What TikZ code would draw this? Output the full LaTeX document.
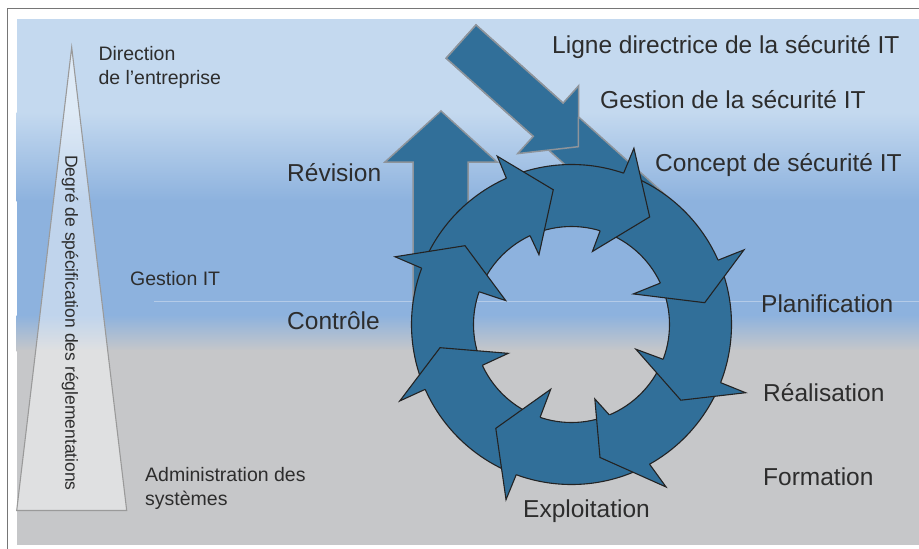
\documentclass[tikz,border=0pt]{standalone}
\usepackage{fontspec}
\setmainfont{Liberation Sans}
\definecolor{skytop}{HTML}{C4D9EF}
\definecolor{skymid}{HTML}{8DB2DE}
\definecolor{floorgray}{HTML}{C6C7C9}
\definecolor{cycleblue}{HTML}{316F99}
\definecolor{cycleedge}{HTML}{232323}
\definecolor{flowedge}{HTML}{8E949B}
\definecolor{labeltext}{HTML}{2D2D2D}
\definecolor{divider}{HTML}{B4CBE8}
\definecolor{frameline}{HTML}{767676}
\definecolor{pyramidrim}{HTML}{9A9A9A}

\begin{document}
\begin{tikzpicture}[x=1pt,y=-1pt,
  biglab/.style={font=\fontsize{24.5}{29}\selectfont,text=labeltext,inner sep=0pt,anchor=base west},
  smalllab/.style={font=\fontsize{19.5}{24.5}\selectfont,text=labeltext,inner sep=0pt,anchor=base west,align=left},
  flow/.style={fill=cycleblue,draw=flowedge,line width=1.5pt,line join=miter},
  ringline/.style={draw=cycleedge,line width=1.1pt,line join=miter}]
\useasboundingbox (0,0) rectangle (919,549);
% background bands
\fill[skytop] (16.7,19.3) rectangle (919,113);
\shade[top color=skytop,bottom color=skymid] (16.7,112) rectangle (919,201);
\fill[skymid] (16.7,200) rectangle (919,316);
\shade[top color=skymid,bottom color=floorgray] (16.7,315) rectangle (919,351);
\fill[floorgray] (16.7,350) rectangle (919,545);
\draw[frameline,line width=1.5pt] (7.3,549) -- (7.3,8.5) -- (919,8.5);
\draw[divider,line width=0.8pt] (154,301) -- (919,301);

% pyramid of levels
\filldraw[fill=white,fill opacity=0.45,draw=pyramidrim,line width=1.1pt] (71.7,47.3) -- (126.7,510.5) -- (16.7,510.5) -- cycle;
\node[rotate=-90,font=\fontsize{17.5}{20}\selectfont,text=labeltext,inner sep=0pt] (degre) at (70,323) {Degré de spécification des réglementations};

% up arrow and diagonal arrows (behind the cycle)
\filldraw[flow] (413,318) -- (413,162) -- (385,162) -- (441,111) -- (497,162) -- (468,162) -- (468,318) -- cycle;
\filldraw[flow] (476,25) -- (678.5,206.6) -- (648.7,239.8) -- (446.2,58.2) -- cycle;
\filldraw[flow] (476,25) -- (563.1,103.1) -- (578.7,85.7) -- (578.3,146.7) -- (517.7,153.6) -- (533.3,136.3) -- (446.2,58.2) -- cycle;

% cycle of eight arrows
\begin{scope}[shift={(571.5,324.5)},y=1pt]
  \fill[cycleblue,even odd rule] (0,0) circle (160) (0,0) circle (98);
  \draw[ringline] (0,0) circle (160) (0,0) circle (98);
  \foreach \oj/\oba/\obr/\ta/\tr/\iba/\ibr/\ij in {
      114/113.8/184/97.7/136/115/77/115,
      71/70.5/187/54/133/74/76/73,
      23.7/23.4/188/9.3/135/26.3/69/25,
      -21.3/-21.4/187/-34.7/133/-21/69/-20.8,
      -60.8/-59.8/188/-77.9/136/-72.6/78/-67.3,
      -110.2/-110.5/187/-126.1/128.5/-107.8/68/-108.7,
      -156.1/-156/188/-170/133.5/-155.5/69.5/-155.4,
      159.4/159/189/143.5/132.5/160/70/160.5}{
    \fill[cycleblue] (\oj:160) -- (\oba:\obr) -- (\ta:\tr) -- (\iba:\ibr) -- (\ij:98) -- cycle;
    \draw[ringline] (\oj:160) -- (\oba:\obr) -- (\ta:\tr) -- (\iba:\ibr) -- (\ij:98);
  }
\end{scope}

% labels (two-line ones sit on their last baseline)
\node[smalllab] (direction) at (98.3,84.7) {Direction\\de l’entreprise};
\node[smalllab] (gestit) at (130,285.5) {Gestion IT};
\node[smalllab] (admin) at (145,505.9) {Administration des\\systèmes};
\node[biglab] (ligne) at (552,53.5) {Ligne directrice de la sécurité IT};
\node[biglab] (gestsec) at (600,108.3) {Gestion de la sécurité IT};
\node[biglab] (concept) at (655,171.7) {Concept de sécurité IT};
\node[biglab] (revision) at (287,181) {Révision};
\node[biglab] (controle) at (287,329) {Contrôle};
\node[biglab] (planif) at (761,312.7) {Planification};
\node[biglab] (realis) at (763,401.7) {Réalisation};
\node[biglab] (formation) at (763,485.7) {Formation};
\node[biglab] (exploit) at (523,517.7) {Exploitation};
\end{tikzpicture}
\end{document}
